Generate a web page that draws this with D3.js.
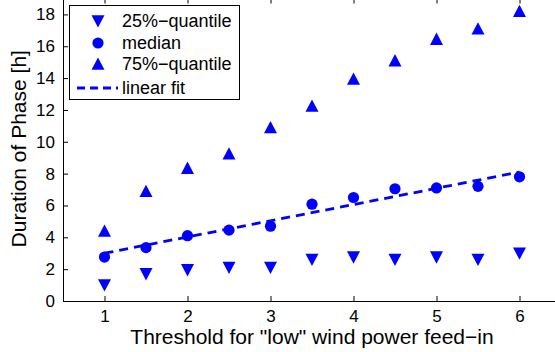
<!DOCTYPE html>
<html>
<head>
<meta charset="utf-8">
<script src="https://cdn.jsdelivr.net/npm/d3@7/dist/d3.min.js"></script>
<style>
  html, body { margin: 0; padding: 0; background: #fff; }
  svg { display: block; font-family: "Liberation Sans", Arial, sans-serif; }
</style>
</head>
<body>
<svg id="chart" width="555" height="352"></svg>
<script>
// Thresholds for "low" wind power feed-in
const thresholds = [1, 1.5, 2, 2.5, 3, 3.5, 4, 4.5, 5, 5.5, 6];
// Phase duration statistics [h]
const q25 = [1.0, 1.7, 1.95, 2.1, 2.1, 2.6, 2.75, 2.6, 2.75, 2.6, 3.0];
const median = [2.76, 3.35, 4.1, 4.45, 4.7, 6.08, 6.5, 7.05, 7.1, 7.2, 7.8];
const q75 = [4.4, 6.9, 8.35, 9.25, 10.9, 12.25, 13.95, 15.1, 16.45, 17.1, 18.2];
// Linear fit of the median, end points
const fitX = [1, 6];
const fitY = [3.0, 8.1];
// Tick labels
const xTicks = [1, 2, 3, 4, 5, 6];
const yTicks = [0, 2, 4, 6, 8, 10, 12, 14, 16, 18];
const legendLabels = ["25%\u2212quantile", "median", "75%\u2212quantile", "linear fit"];

const blue = "#0000ff";
const svg = d3.select("#chart");
const plotLeft = 63, plotRight = 561, plotBottom = 301, plotTop = -1.5;

const x = d3.scaleLinear().domain([0.5, 6.5]).range([plotLeft, plotRight]);
const y = d3.scaleLinear().domain([0, 19]).range([plotBottom, plotTop]);

const tickLen = 5;
const axisFont = 17;

// Axes (ticks point inward)
const gx = svg.append("g").attr("transform", `translate(0,${plotBottom})`)
  .call(d3.axisBottom(x).tickValues(xTicks).tickSize(-tickLen).tickPadding(9).tickFormat(d3.format("d")));
const gxTop = svg.append("g").attr("transform", `translate(0,${plotTop})`)
  .call(d3.axisTop(x).tickValues(xTicks).tickSize(-tickLen).tickFormat(""));
const gy = svg.append("g").attr("transform", `translate(${plotLeft},0)`)
  .call(d3.axisLeft(y).tickValues(yTicks).tickSize(-tickLen).tickPadding(8).tickFormat(d3.format("d")));
const gyRight = svg.append("g").attr("transform", `translate(${plotRight},0)`)
  .call(d3.axisRight(y).tickValues(yTicks).tickSize(-tickLen).tickFormat(""));

[gx, gxTop, gy, gyRight].forEach(g => {
  g.selectAll(".domain").attr("stroke", "#000").attr("stroke-width", 1);
  g.selectAll(".tick line").attr("stroke", "#000").attr("stroke-width", 1);
  g.selectAll(".tick text").attr("fill", "#000").style("font-size", axisFont + "px")
    .style("font-family", "'Liberation Sans', Arial, sans-serif");
});
gx.selectAll(".tick text").attr("dy", "0.71em");

// Axis titles
svg.append("text")
  .attr("x", (plotLeft + plotRight) / 2).attr("y", 344)
  .attr("text-anchor", "middle").style("font-size", "21px")
  .text('Threshold for "low" wind power feed\u2212in');
svg.append("text")
  .attr("transform", `translate(26,${(plotBottom + plotTop) / 2 - 1}) rotate(-90)`)
  .attr("text-anchor", "middle").style("font-size", "21px")
  .text("Duration of Phase [h]");

// Marker shapes
const triDown = s => `M${-s / 2},${-s * 0.45}L${s / 2},${-s * 0.45}L0,${s * 0.5}Z`;
const triUp = s => `M${-s / 2},${s * 0.45}L${s / 2},${s * 0.45}L0,${-s * 0.5}Z`;
const triSize = 13, circR = 5.6;

// Linear fit line
svg.append("path")
  .datum(fitX.map((d, i) => [d, fitY[i]]))
  .attr("d", d3.line().x(d => x(d[0])).y(d => y(d[1])))
  .attr("fill", "none").attr("stroke", blue).attr("stroke-width", 2.8)
  .attr("stroke-dasharray", "9,6");

// Markers
svg.append("g").selectAll("path").data(thresholds).join("path")
  .attr("transform", (d, i) => `translate(${x(d)},${y(q25[i])})`)
  .attr("d", triDown(triSize)).attr("fill", blue);
svg.append("g").selectAll("circle").data(thresholds).join("circle")
  .attr("cx", d => x(d)).attr("cy", (d, i) => y(median[i]))
  .attr("r", circR).attr("fill", blue);
svg.append("g").selectAll("path").data(thresholds).join("path")
  .attr("transform", (d, i) => `translate(${x(d)},${y(q75[i])})`)
  .attr("d", triUp(triSize)).attr("fill", blue);

// Legend
const lg = svg.append("g");
lg.append("rect").attr("x", 69.5).attr("y", 5.5).attr("width", 170).attr("height", 94)
  .attr("fill", "#fff").attr("stroke", "#000").attr("stroke-width", 1);
const rowY = [21, 43, 64, 88];
const mx = 98;
lg.append("path").attr("transform", `translate(${mx},${rowY[0]})`).attr("d", triDown(triSize)).attr("fill", blue);
lg.append("circle").attr("cx", mx).attr("cy", rowY[1]).attr("r", circR).attr("fill", blue);
lg.append("path").attr("transform", `translate(${mx},${rowY[2]})`).attr("d", triUp(triSize)).attr("fill", blue);
lg.append("line").attr("x1", 77).attr("x2", 118).attr("y1", rowY[3]).attr("y2", rowY[3])
  .attr("stroke", blue).attr("stroke-width", 2.8).attr("stroke-dasharray", "8,5");
lg.selectAll("text").data(legendLabels).join("text")
  .attr("x", 122).attr("y", (d, i) => rowY[i]).attr("dy", "0.35em")
  .style("font-size", "18px").text(d => d);
</script>
</body>
</html>
